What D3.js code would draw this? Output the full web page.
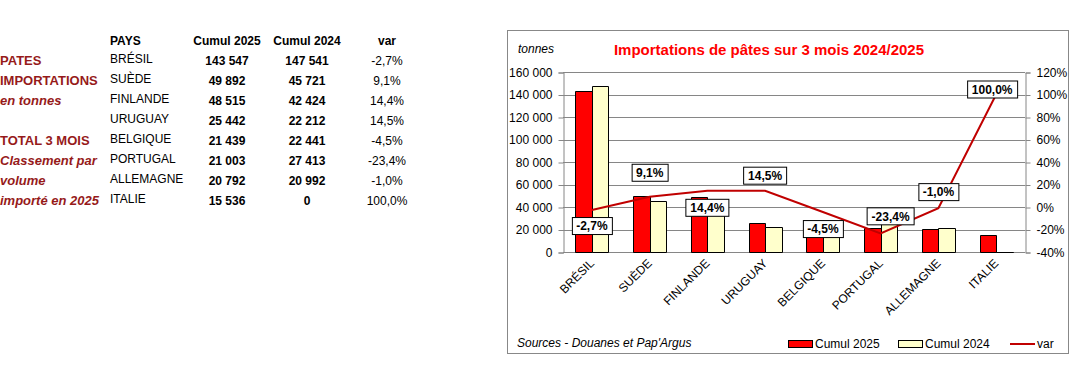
<!DOCTYPE html>
<html>
<head>
<meta charset="utf-8">
<script src="https://cdn.jsdelivr.net/npm/d3@7"></script>
<style>
  body { margin: 0; background: #fff; }
  text { font-family: Arial, "Liberation Sans", sans-serif; }
</style>
</head>
<body>
<svg id="chart"></svg>
<script>
document.addEventListener("DOMContentLoaded", function() {
  const width = 1091;
  const height = 374;

  // data
  const countries = ["BRÉSIL", "SUÈDE", "FINLANDE", "URUGUAY", "BELGIQUE", "PORTUGAL", "ALLEMAGNE", "ITALIE"];
  const cumul2025 = [143547, 49892, 48515, 25442, 21439, 21003, 20792, 15536];
  const cumul2024 = [147541, 45721, 42424, 22212, 22441, 27413, 20992, 0];
  const variation = [-2.7, 9.1, 14.4, 14.5, -4.5, -23.4, -1.0, 100.0];
  const seriesNames = ["Cumul 2025", "Cumul 2024"];
  const leftNotes = [
    { t: "PATES", italic: false, row: 0 },
    { t: "IMPORTATIONS", italic: false, row: 1 },
    { t: "en tonnes", italic: true, row: 2 },
    { t: "TOTAL 3 MOIS", italic: false, row: 4 },
    { t: "Classement par", italic: true, row: 5 },
    { t: "volume", italic: true, row: 6 },
    { t: "importé en 2025", italic: true, row: 7 }
  ];

  // manual placement of the data labels (dx, dy from the point)
  const labelShift = [[0, 16], [0, -24], [0, 17], [0, -15], [0, 17], [10, -17], [0, -16], [-4, -5]];

  const fr = d3.formatLocale({ decimal: ",", thousands: " ", grouping: [3], currency: ["", " €"], minus: "-" });
  const fmtInt = fr.format(",d");
  const fmtPct = v => fr.format(".1f")(v) + "%";

  const svg = d3.select("#chart").attr("width", width).attr("height", height);
  svg.append("rect").attr("width", width).attr("height", height).attr("fill", "#fff");

  // ---- left table ----
  const noteColor = "#961a1a";
  const tbl = svg.append("g");
  const rowY = i => 63 + i * 20;

  tbl.selectAll("text.note")
    .data(leftNotes)
    .enter().append("text")
    .attr("class", "note")
    .attr("x", 0)
    .attr("y", d => rowY(d.row) + 2)
    .attr("font-size", 13)
    .attr("font-weight", "bold")
    .attr("font-style", d => d.italic ? "italic" : "normal")
    .attr("fill", noteColor)
    .text(d => d.t);

  const headers = [
    { t: "PAYS", x: 110, anchor: "start" },
    { t: "Cumul 2025", x: 227, anchor: "middle" },
    { t: "Cumul 2024", x: 307, anchor: "middle" },
    { t: "var", x: 387, anchor: "middle" }
  ];
  tbl.selectAll("text.head")
    .data(headers)
    .enter().append("text")
    .attr("x", d => d.x)
    .attr("y", 45)
    .attr("text-anchor", d => d.anchor)
    .attr("font-size", 12)
    .attr("font-weight", "bold")
    .text(d => d.t);

  countries.forEach((c, i) => {
    const y = rowY(i);
    tbl.append("text").attr("x", 110).attr("y", y).attr("font-size", 12).text(c);
    tbl.append("text").attr("x", 227).attr("y", y + 2).attr("font-size", 12)
      .attr("font-weight", "bold").attr("text-anchor", "middle").text(fmtInt(cumul2025[i]));
    tbl.append("text").attr("x", 307).attr("y", y + 2).attr("font-size", 12)
      .attr("font-weight", "bold").attr("text-anchor", "middle").text(fmtInt(cumul2024[i]));
    tbl.append("text").attr("x", 387).attr("y", y + 2).attr("font-size", 12)
      .attr("text-anchor", "middle").text(fmtPct(variation[i]));
  });

  // ---- chart frame ----
  svg.append("rect")
    .attr("x", 507.5).attr("y", 30.5)
    .attr("width", 561).attr("height", 323)
    .attr("fill", "#fff").attr("stroke", "#888");

  const plot = { left: 563, right: 1025, top: 72, bottom: 252 };

  const x = d3.scaleBand()
    .domain(countries)
    .range([plot.left, plot.right])
    .paddingInner(0.43)
    .paddingOuter(0.215);
  const xs = d3.scaleBand().domain(seriesNames).range([0, x.bandwidth()]);
  const y = d3.scaleLinear().domain([0, 160000]).range([plot.bottom, plot.top]);
  const y2 = d3.scaleLinear().domain([-40, 120]).range([plot.bottom, plot.top]);

  const gridColor = "#868686";

  // gridlines
  svg.append("g")
    .selectAll("line")
    .data(y.ticks(8))
    .enter().append("line")
    .attr("x1", plot.left).attr("x2", plot.right)
    .attr("y1", d => Math.round(y(d)) + 0.5)
    .attr("y2", d => Math.round(y(d)) + 0.5)
    .attr("stroke", gridColor);

  // left axis
  const yAxis = d3.axisLeft(y).ticks(8).tickSize(5).tickPadding(6).tickFormat(fmtInt);
  const gy = svg.append("g").attr("transform", `translate(${plot.left + 0.5},0.5)`).call(yAxis);
  gy.select(".domain").attr("stroke", gridColor);
  gy.selectAll(".tick line").attr("stroke", gridColor);
  gy.selectAll(".tick text").attr("font-size", 12).attr("fill", "#000")
    .attr("font-family", "Arial, 'Liberation Sans', sans-serif");

  // right axis
  const y2Axis = d3.axisRight(y2).tickValues(d3.range(-40, 121, 20)).tickSize(5).tickPadding(6)
    .tickFormat(d => d + "%");
  const gy2 = svg.append("g").attr("transform", `translate(${plot.right + 0.5},0.5)`).call(y2Axis);
  gy2.select(".domain").attr("stroke", gridColor);
  gy2.selectAll(".tick line").attr("stroke", gridColor);
  gy2.selectAll(".tick text").attr("font-size", 12).attr("fill", "#000")
    .attr("font-family", "Arial, 'Liberation Sans', sans-serif");

  // bottom axis line
  svg.append("line")
    .attr("x1", plot.left).attr("x2", plot.right)
    .attr("y1", plot.bottom + 0.5).attr("y2", plot.bottom + 0.5)
    .attr("stroke", gridColor);

  // bars
  const barColors = { "Cumul 2025": "#ff0000", "Cumul 2024": "#ffffcc" };
  const barData = [];
  countries.forEach((c, i) => {
    barData.push({ c: c, s: "Cumul 2025", v: cumul2025[i] });
    barData.push({ c: c, s: "Cumul 2024", v: cumul2024[i] });
  });
  svg.append("g")
    .selectAll("path")
    .data(barData)
    .enter().append("path")
    .attr("d", d => {
      const x0 = Math.round(x(d.c) + xs(d.s)) + 0.5;
      const x1 = Math.round(x(d.c) + xs(d.s) + xs.bandwidth()) + 0.5;
      const yt = Math.round(y(d.v)) + 0.5;
      const yb = Math.round(y(0)) + 0.5;
      return `M${x0},${yb}V${yt}H${x1}V${yb}Z`;
    })
    .attr("fill", d => barColors[d.s])
    .attr("stroke", "#000")
    .attr("stroke-width", 1);

  // line (var, right axis)
  const cx = c => x(c) + x.bandwidth() / 2;
  const line = d3.line()
    .x((d, i) => cx(countries[i]))
    .y(d => y2(d));
  svg.append("path")
    .datum(variation)
    .attr("d", line)
    .attr("fill", "none")
    .attr("stroke", "#c00000")
    .attr("stroke-width", 2);

  // data labels
  const labels = svg.append("g");
  variation.forEach((v, i) => {
    const lx = cx(countries[i]) + labelShift[i][0];
    const ly = y2(v) + labelShift[i][1];
    const g = labels.append("g").attr("transform", `translate(${lx},${ly})`);
    const t = g.append("text")
      .attr("text-anchor", "middle")
      .attr("dy", "0.36em")
      .attr("font-size", 12)
      .attr("font-weight", "bold")
      .text(fmtPct(v));
    const w = t.node().getComputedTextLength() + 9;
    g.insert("rect", "text")
      .attr("x", Math.round(-w / 2) + 0.5)
      .attr("y", -8.5)
      .attr("width", Math.round(w))
      .attr("height", 17)
      .attr("fill", "#fff")
      .attr("stroke", "#000");
  });

  // category labels
  svg.append("g")
    .selectAll("text")
    .data(countries)
    .enter().append("text")
    .attr("transform", c => `translate(${cx(c) + 3},${plot.bottom + 12}) rotate(-45)`)
    .attr("text-anchor", "end")
    .attr("font-size", 12)
    .text(c => c);

  // titles
  svg.append("text")
    .attr("x", 769).attr("y", 55)
    .attr("text-anchor", "middle")
    .attr("font-size", 15)
    .attr("font-weight", "bold")
    .attr("fill", "#ff0000")
    .text("Importations de pâtes sur 3 mois 2024/2025");
  svg.append("text")
    .attr("x", 518).attr("y", 53)
    .attr("font-size", 12)
    .attr("font-style", "italic")
    .text("tonnes");
  svg.append("text")
    .attr("x", 517).attr("y", 347)
    .attr("font-size", 12)
    .attr("font-style", "italic")
    .text("Sources - Douanes et Pap'Argus");

  // legend
  const legend = svg.append("g");
  const legendItems = [
    { name: seriesNames[0], x: 788, kind: "bar" },
    { name: seriesNames[1], x: 898, kind: "bar" },
    { name: "var", x: 1010, kind: "line" }
  ];
  legendItems.forEach(d => {
    if (d.kind === "bar") {
      legend.append("rect")
        .attr("x", d.x + 0.5).attr("y", 340.5)
        .attr("width", 24).attr("height", 7)
        .attr("fill", barColors[d.name]).attr("stroke", "#000");
      legend.append("text").attr("x", d.x + 27).attr("y", 348).attr("font-size", 12).text(d.name);
    } else {
      legend.append("line")
        .attr("x1", d.x).attr("x2", d.x + 25)
        .attr("y1", 344).attr("y2", 344)
        .attr("stroke", "#c00000").attr("stroke-width", 2);
      legend.append("text").attr("x", d.x + 27).attr("y", 348).attr("font-size", 12).text(d.name);
    }
  });
});
</script>
</body>
</html>
